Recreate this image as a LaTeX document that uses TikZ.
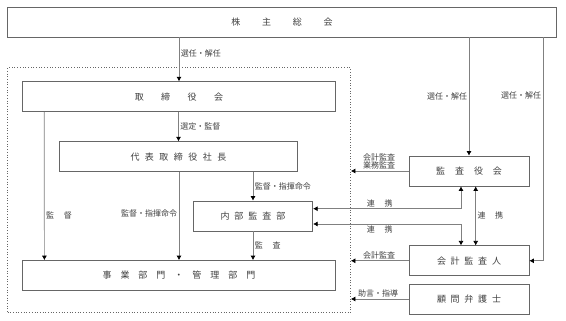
\documentclass[tikz,border=0pt]{standalone}
\usepackage{fontspec}
\setmainfont{Noto Sans CJK JP}
\usepackage{tikz}
\usetikzlibrary{arrows.meta, positioning}

% 文字間を空ける
\makeatletter
\newcommand{\spaced}[2]{%
  \def\sp@sep{}%
  \@tfor\sp@ch:=#2\do{\sp@sep\sp@ch\def\sp@sep{\hspace{#1}}}}
\makeatother

\tikzset{
  box/.style={draw=black!60, line width=0.7pt, minimum height=30pt, inner sep=0pt,
    font=\fontsize{9}{10}\selectfont, text=black!75},
  lbl/.style={font=\fontsize{8}{8}\selectfont, text=black!75, inner sep=1.5pt},
  conn/.style={draw=black!50, line width=0.7pt},
}

\begin{document}
\begin{tikzpicture}[x=1pt, y=-1pt, >={Latex[length=4.5pt,width=5pt,color=black]}]
    \useasboundingbox (0,0) rectangle (566,321);

    % 株主総会と枠
    \node[box, minimum width=549pt, minimum height=29.5pt] (agm) at (282,22.3) {\spaced{21.7pt}{株主総会}};
    \node[draw=black!60, dotted, line width=0.7pt, minimum width=343pt, minimum height=245pt] (grp) at (179,190.2) {};

    % 左側
    \node[box, minimum width=313pt] (board) at (179,96.7) {\spaced{17.5pt}{取締役会}};
    \node[box, minimum width=238pt] (pres) at (178.5,156.7) {\spaced{5.5pt}{代表取締役社長}};
    \node[box, minimum width=119.5pt] (audit) at (253,216) {\spaced{5pt}{内部監査部}};
    \node[box, minimum width=312.5pt] (dept) at (179,275.5) {\spaced{9pt}{事業部門・管理部門}};

    % 右側
    \node[box, minimum width=120pt] (kansa) at (469,171) {\spaced{10pt}{監査役会}};
    \node[box, minimum width=120pt] (kaikei) at (469,260.8) {\spaced{4.75pt}{会計監査人}};
    \node[box, minimum width=120pt, below=7.5pt of kaikei] (komon) {\spaced{4.75pt}{顧問弁護士}};

    % 左側の矢印
    \draw[conn, ->] (agm.south -| board.north) -- node[lbl, right, pos=.36] {選任・解任} (board.north);
    \draw[conn, ->] (board.south -| pres.north) -- node[lbl, right] {選定・監督} (pres.north);
    \draw[conn, ->] ([xshift=22pt]board.south west) -- node[lbl, right, pos=.7] {\spaced{9.7pt}{監督}} ([xshift=22pt]dept.north west);
    \draw[conn, ->] (pres.south -| dept.north) -- node[lbl, left, pos=.47] {監督・指揮命令} (dept.north);
    \draw[conn, ->] (pres.south -| audit.north) -- node[lbl, right] {監督・指揮命令} (audit.north);
    \draw[conn, ->] (audit.south) -- node[lbl, right] {\spaced{9.7pt}{監査}} (audit.south |- dept.north);

    % 右側の矢印
    \draw[conn, ->] (agm.south -| kansa.north) -- node[lbl, left] {選任・解任} (kansa.north);
    \draw[conn, ->] ([xshift=-14pt]agm.south east) |- node[lbl, left, pos=.13] {選任・解任} (kaikei.east);
    \draw[conn, ->] (kansa.west) -- node[lbl, above left, pos=.2, align=right] {会計監査\\業務監査} (kansa.west -| grp.east);
    \draw[conn, <->] ([yshift=7.3pt]audit.east) -| node[lbl, above, pos=.225] {\spaced{9.7pt}{連携}} ([xshift=-8pt]kansa.south);
    \draw[conn, <->] ([yshift=-8pt]audit.east) -| node[lbl, below, pos=.225] {\spaced{9.7pt}{連携}} ([xshift=-8pt]kaikei.north);
    \draw[conn, <->] ([xshift=6.7pt]kansa.south) -- node[lbl, right] {\spaced{9.7pt}{連携}} ([xshift=6.7pt]kaikei.north);
    \draw[conn, ->] (kaikei.west) -- node[lbl, above left, pos=.2] {会計監査} (kaikei.west -| grp.east);
    \draw[conn, ->] (komon.west) -- node[lbl, above left, pos=.15] {助言・指導} (komon.west -| grp.east);

\end{tikzpicture}
\end{document}
